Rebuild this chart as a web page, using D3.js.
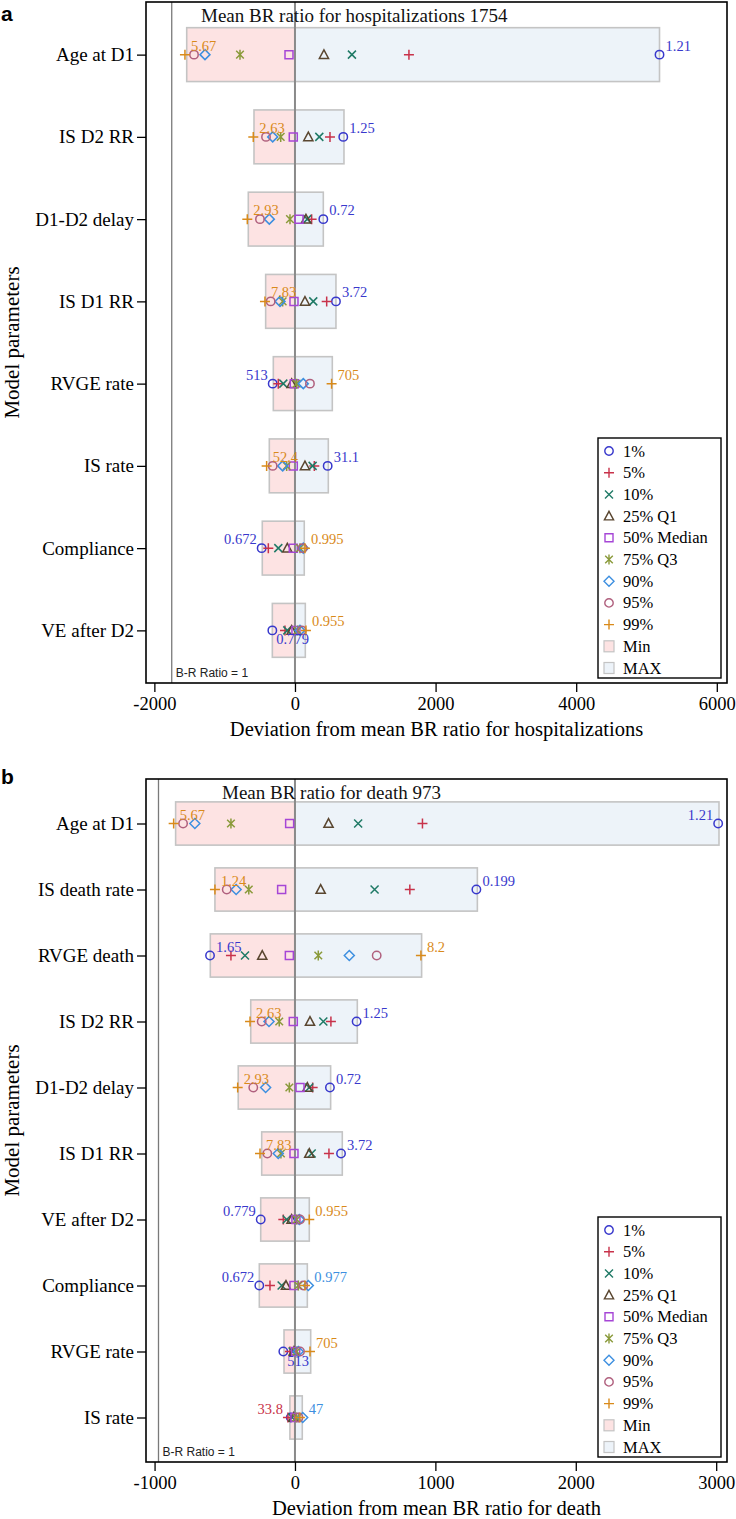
<!DOCTYPE html>
<html><head><meta charset="utf-8">
<script src="https://cdn.jsdelivr.net/npm/d3@7"></script>
<style>body{margin:0;background:#fff}</style>
</head><body><svg id="c" width="736" height="1519"></svg>
<script>
// ---------- DATA ----------
const percentiles = ["1%","5%","10%","25% Q1","50% Median","75% Q3","90%","95%","99%"];
const symbols = ["circle","plus","x","triangle","square","star","diamond","circle","plus"];

// Panel a: hospitalizations
const hospMean = 1754;
const hospParams = ["Age at D1","IS D2 RR","D1-D2 delay","IS D1 RR","RVGE rate","IS rate","Compliance","VE after D2"];
const hospP1  = [5185, 687, 403, 583, -317, 465, -474, -322];
const hospP5  = [1621, 498, 237, 451, -237, 275, -379, -142];
const hospP10 = [810, 346, 175, 260, -166, 251, -237, -109];
const hospP25 = [412, 190, 156, 142, -47, 142, -109, -47];
const hospP50 = [-85, -24, 57, -14, -10, -24, -24, 14];
const hospP75 = [-782, -203, -71, -175, 24, -118, 71, 38];
const hospP90 = [-1280, -317, -365, -213, 118, -175, 118, 71];
const hospP95 = [-1436, -412, -498, -346, 213, -317, 109, 95];
const hospP99 = [-1565, -593, -678, -427, 521, -403, 142, 156];
const hospMin = [-1540, -583, -664, -417, -308, -365, -465, -322];
const hospMax = [5185, 697, 403, 583, 531, 474, 132, 147];
const hospMinLabel = ["5.67","2.63","2.93","7.83","513","52.4","0.672","0.779"];
const hospMaxLabel = ["1.21","1.25","0.72","3.72","705","31.1","0.995","0.955"];
const hospTicks = [-2000, 0, 2000, 4000, 6000];

// Panel b: death
const deathMean = 973;
const deathParams = ["Age at D1","IS death rate","RVGE death","IS D2 RR","D1-D2 delay","IS D1 RR","VE after D2","Compliance","RVGE rate","IS rate"];
const deathP1  = [3014, 1292, -605, 439, 249, 328, -244, -254, -83, -30];
const deathP5  = [908, 818, -456, 256, 126, 242, -83, -178, -36, -50];
const deathP10 = [450, 567, -356, 202, 102, 119, -59, -95, -17, -20];
const deathP25 = [239, 183, -233, 107, 88, 102, -24, -64, -7, -10];
const deathP50 = [-38, -95, -40, -12, 36, -7, 7, -7, 5, 0];
const deathP75 = [-456, -329, 166, -112, -40, -100, 12, 24, 12, 10];
const deathP90 = [-713, -419, 387, -185, -209, -119, 31, 95, 24, 55];
const deathP95 = [-797, -486, 582, -237, -297, -197, 36, 59, 36, 25];
const deathP99 = [-864, -570, 897, -320, -408, -249, 102, 71, 107, 35];
const deathMin = [-850, -570, -603, -315, -404, -237, -244, -254, -78, -36];
const deathMax = [3020, 1299, 902, 444, 254, 337, 102, 88, 112, 52];
const deathMinLabel = ["5.67","1.24","1.65","2.63","2.93","7.83","0.779","0.672","513","33.8"];
const deathMaxLabel = ["1.21","0.199","8.2","1.25","0.72","3.72","0.955","0.977","705","47"];
const deathTicks = [-1000, 0, 1000, 2000, 3000];

// ---------- STYLE / LAYOUT ----------
const colors = ["#3838cc","#c8324a","#1f7a66","#5a4630","#a646d6","#8a9a3a","#3d8fe0","#b0607e","#d98a1a"];
const minFill = "#fde3e3", maxFill = "#edf3f9", barStroke = "#c4c4c4";
const serif = "'Liberation Serif','Times New Roman',serif";
const L = 146, R = 727;

const panels = [
  { tag:"a", tagY:13, top:2, bottom:683, domain:[-2119, 6145], ticks:hospTicks,
    params:hospParams, series:[hospP1,hospP5,hospP10,hospP25,hospP50,hospP75,hospP90,hospP95,hospP99],
    minBar:hospMin, maxBar:hospMax, minLabel:hospMinLabel, maxLabel:hospMaxLabel,
    minPos:["tr","tr","tr","tr","tl","tr","tl","br"], maxPos:["tr","tr","tr","tr","tr","tr","tr","tr"],
    mean:hospMean, title:"Mean BR ratio for hospitalizations " + hospMean, titleX:201,
    xTitle:"Deviation from mean BR ratio for hospitalizations" },
  { tag:"b", tagY:776, top:779, bottom:1462, domain:[-1061, 3077], ticks:deathTicks,
    params:deathParams, series:[deathP1,deathP5,deathP10,deathP25,deathP50,deathP75,deathP90,deathP95,deathP99],
    minBar:deathMin, maxBar:deathMax, minLabel:deathMinLabel, maxLabel:deathMaxLabel,
    minPos:["tr","tr","tr","tr","tr","tr","tl","tl","br","tl"], maxPos:["tl","tr","tr","tr","tr","tr","tr","tr","tr","tr"],
    mean:deathMean, title:"Mean BR ratio for death " + deathMean, titleX:222,
    xTitle:"Deviation from mean BR ratio for death" }
];

function symPath(t){
  switch(t){
    case "circle": return "M4.2,0A4.2,4.2 0 1,1 -4.2,0A4.2,4.2 0 1,1 4.2,0Z";
    case "plus": return "M-5,0H5M0,-5V5";
    case "x": return "M-4,-4L4,4M-4,4L4,-4";
    case "triangle": return "M0,-4.8L4.6,3.8H-4.6Z";
    case "square": return "M-4,-4H4V4H-4Z";
    case "star": return "M0,-5V5M-3.8,-3.8L3.8,3.8M-3.8,3.8L3.8,-3.8";
    case "diamond": return "M0,-5L5,0L0,5L-5,0Z";
  }
}

const svg = d3.select("#c");

panels.forEach(p => {
  const g = svg.append("g");
  const x = d3.scaleLinear().domain(p.domain).range([L, R]);
  const y = d3.scalePoint().domain(p.params).range([p.top + 11.5, p.bottom - 11.5]).padding(0.5);
  const bh = y.step() * 0.655;

  // panel tag
  svg.append("text").attr("x", 1).attr("y", p.tagY).attr("dominant-baseline","central")
    .attr("font-family","'Liberation Sans',Arial,sans-serif").attr("font-weight","bold")
    .attr("font-size", 21).text(p.tag);

  // bars
  g.selectAll(".minb").data(p.params).join("rect")
    .attr("x", (d,i) => x(p.minBar[i])).attr("width", (d,i) => x(0) - x(p.minBar[i]))
    .attr("y", d => y(d) - bh/2).attr("height", bh)
    .attr("fill", minFill).attr("stroke", barStroke).attr("stroke-width", 1.6);
  g.selectAll(".maxb").data(p.params).join("rect")
    .attr("x", x(0)).attr("width", (d,i) => x(p.maxBar[i]) - x(0))
    .attr("y", d => y(d) - bh/2).attr("height", bh)
    .attr("fill", maxFill).attr("stroke", barStroke).attr("stroke-width", 1.6);

  // reference lines
  const br = 1 - p.mean;
  g.append("line").attr("x1", x(br)).attr("x2", x(br)).attr("y1", p.top).attr("y2", p.bottom)
    .attr("stroke", "#7a7a7a").attr("stroke-width", 1.3);
  g.append("line").attr("x1", x(0)).attr("x2", x(0)).attr("y1", p.top).attr("y2", p.bottom)
    .attr("stroke", "#8a8a8a").attr("stroke-width", 2);
  g.append("text").attr("x", x(br) + 4).attr("y", p.bottom - 6)
    .attr("font-family","'Liberation Sans',Arial,sans-serif").attr("font-size", 12).attr("fill","#222")
    .text("B-R Ratio = 1");

  // title inside
  g.append("text").attr("x", p.titleX).attr("y", p.top + 13).attr("dominant-baseline","central")
    .attr("font-family", serif).attr("font-size", 19).attr("fill","#111").text(p.title);

  // markers
  p.series.forEach((s, k) => {
    g.selectAll(null).data(p.params).join("path")
      .attr("transform", (d,i) => `translate(${x(s[i])},${y(d)})`)
      .attr("d", symPath(symbols[k])).attr("fill","none")
      .attr("stroke", colors[k]).attr("stroke-width", 1.5);
  });

  // extreme labels
  function place(sel, pos){
    sel.attr("x", d => pos[d.i] === "tl" ? d.px - 5 : d.px + (pos[d.i] === "br" ? 4 : 6))
       .attr("y", d => pos[d.i] === "br" ? d.py + 14 : d.py - 4)
       .attr("text-anchor", d => pos[d.i] === "tl" ? "end" : "start");
  }
  const ext = p.params.map((name, i) => {
    const vals = p.series.map(s => s[i]);
    const kmin = vals.indexOf(d3.min(vals)), kmax = vals.indexOf(d3.max(vals));
    return { i, py: y(name), kmin, kmax, xmin: x(vals[kmin]), xmax: x(vals[kmax]) };
  });
  place(g.selectAll(null).data(ext.map(e => ({i:e.i, px:e.xmin, py:e.py, k:e.kmin}))).join("text")
    .attr("font-family", serif).attr("font-size", 14.5)
    .attr("fill", d => colors[d.k]).text(d => p.minLabel[d.i]), p.minPos);
  place(g.selectAll(null).data(ext.map(e => ({i:e.i, px:e.xmax, py:e.py, k:e.kmax}))).join("text")
    .attr("font-family", serif).attr("font-size", 14.5)
    .attr("fill", d => colors[d.k]).text(d => p.maxLabel[d.i]), p.maxPos);

  // frame
  g.append("rect").attr("x", L).attr("y", p.top).attr("width", R - L).attr("height", p.bottom - p.top)
    .attr("fill","none").attr("stroke","#000").attr("stroke-width", 1.6);

  // axes
  const xa = g.append("g").attr("transform", `translate(0,${p.bottom})`)
    .call(d3.axisBottom(x).tickValues(p.ticks).tickFormat(d => String(d)).tickSize(9).tickPadding(5));
  xa.select(".domain").remove();
  xa.selectAll("text").attr("font-family", serif).attr("font-size", 18.5).attr("fill","#000");
  xa.selectAll("line").attr("stroke","#000").attr("stroke-width",1.3);

  const ya = g.append("g").attr("transform", `translate(${L},0)`)
    .call(d3.axisLeft(y).tickSize(9).tickPadding(3));
  ya.select(".domain").remove();
  ya.selectAll("text").attr("font-family", serif).attr("font-size", 19).attr("fill","#000");
  ya.selectAll("line").attr("stroke","#000").attr("stroke-width",1.3);

  // axis titles
  g.append("text").attr("x", (L + R)/2).attr("y", p.bottom + 46).attr("text-anchor","middle")
    .attr("dominant-baseline","central").attr("font-family", serif).attr("font-size", 20.5)
    .text(p.xTitle);
  g.append("text").attr("transform", `translate(12,${(p.top + p.bottom)/2}) rotate(-90)`)
    .attr("text-anchor","middle").attr("dominant-baseline","central")
    .attr("font-family", serif).attr("font-size", 21).text("Model parameters");

  // legend
  const lw = 123, lh = 240;
  const lx = R - 6 - lw, ly = p.bottom - 5 - lh;
  const lg = g.append("g");
  lg.append("rect").attr("x", lx).attr("y", ly).attr("width", lw).attr("height", lh)
    .attr("fill","#fff").attr("stroke","#000").attr("stroke-width",1.4);
  const items = percentiles.map((t,k) => ({t, k, kind:"sym"}))
    .concat([{t:"Min", kind:"min"}, {t:"MAX", kind:"max"}]);
  items.forEach((it, j) => {
    const cy = ly + 13 + j * 21.7;
    if (it.kind === "sym") {
      lg.append("path").attr("transform", `translate(${lx + 11},${cy})`).attr("d", symPath(symbols[it.k]))
        .attr("fill","none").attr("stroke", colors[it.k]).attr("stroke-width",1.4);
    } else {
      lg.append("rect").attr("x", lx + 6).attr("y", cy - 5.5).attr("width", 10).attr("height", 11)
        .attr("fill", it.kind === "min" ? minFill : maxFill).attr("stroke", barStroke).attr("stroke-width",1.2);
    }
    lg.append("text").attr("x", lx + 25).attr("y", cy).attr("dominant-baseline","central")
      .attr("font-family", serif).attr("font-size", 16.5).text(it.t);
  });
});
</script></body></html>
